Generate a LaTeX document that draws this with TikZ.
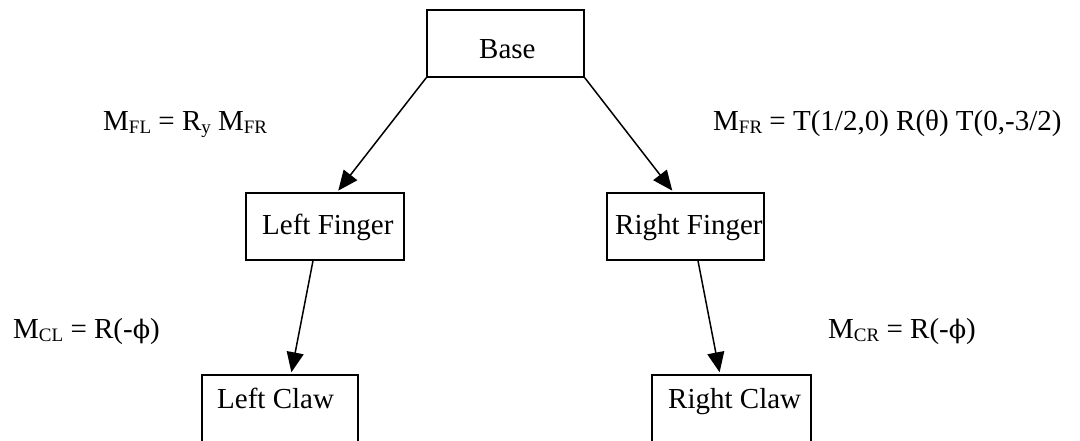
\documentclass[tikz,border=0pt]{standalone}
\usepackage{fontspec}
\setmainfont{Liberation Serif}
\newfontfamily\phifont{DejaVu Serif}[Scale=0.88]
\usetikzlibrary{arrows.meta,calc}
\newcommand{\dsub}[1]{\raisebox{-3pt}{\fontsize{19}{19}\selectfont #1}}
\newcommand{\dphi}{{\phifont ϕ}}
\tikzset{
  box/.style={draw, line width=1.5pt, inner sep=0pt},
  txt/.style={anchor=base west, inner sep=0pt, font=\fontsize{29}{34}\selectfont},
  link/.style={line width=1.5pt, -{Triangle[length=20pt,width=17pt]}, shorten >=2pt}
}
\begin{document}
\begin{tikzpicture}[x=1pt,y=-1pt]
\useasboundingbox (0,0) rectangle (1080,441);
% boxes
\node[box, minimum width=157pt, minimum height=67pt] (base) at (505.5,43.5) {};
\node[box, minimum width=158pt, minimum height=67pt] (lf) at (325,226.5) {};
\node[box, minimum width=157pt, minimum height=67pt] (rf) at (685.5,226.5) {};
\node[box, minimum width=156pt, minimum height=70pt] (lc) at (280,410) {};
\node[box, minimum width=159pt, minimum height=70pt] (rc) at (731.5,410) {};
% box texts
\node[txt] (tbase) at (479,59) {Base};
\node[txt] (tlf) at (262,234) {Left Finger};
\node[txt] (trf) at (615,234) {Right Finger};
\node[txt] (tlc) at (217,408) {Left Claw};
\node[txt] (trc) at (668,408) {Right Claw};
% connectors
\draw[link] (base.south west) -- ($(lf.north)+(12,0)$);
\draw[link] (base.south east) -- ($(rf.north)+(-12,0)$);
\draw[link] ($(lf.south)+(-12,0)$) -- ($(lc.north)+(11,0)$);
\draw[link] ($(rf.south)+(12.5,0)$) -- ($(rc.north)+(-11.5,0)$);
% labels
\node[txt] (mfl) at (103,131) {M\dsub{FL} = R\dsub{y} M\dsub{FR}};
\node[txt] (mfr) at (713,131) {M\dsub{FR} = T(1/2,0) R(θ) T(0,-3/2)};
\node[txt] (mcl) at (13,338) {M\dsub{CL} = R(-\dphi)};
\node[txt] (mcr) at (828,338) {M\dsub{CR} = R(-\dphi)};
\end{tikzpicture}
\end{document}
